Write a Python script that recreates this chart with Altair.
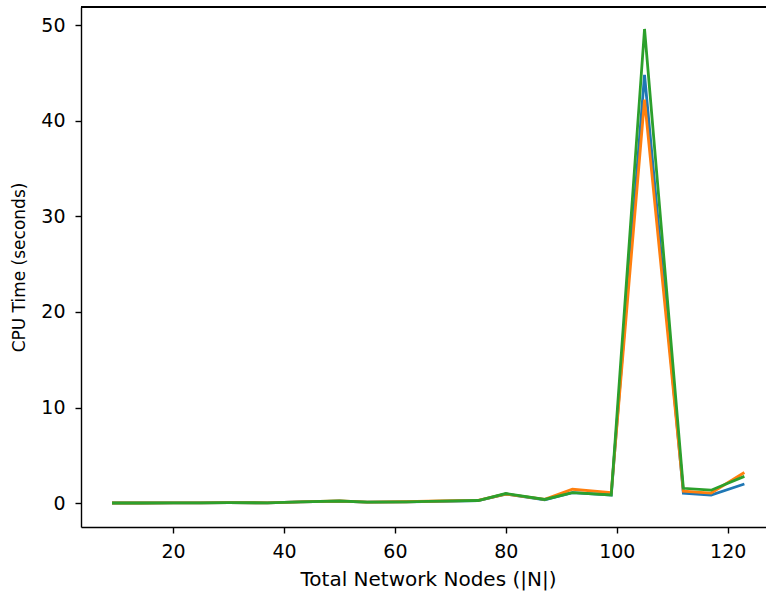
import altair as alt
import pandas as pd

nodes = [9, 14, 20, 25, 30, 37, 43, 50, 55, 62, 68, 75, 80, 87, 92, 99, 105, 112, 117, 123]
series_a = [0.01, 0.01, 0.02, 0.03, 0.04, 0.03, 0.12, 0.20, 0.10, 0.12, 0.18, 0.25, 0.95, 0.35, 1.10, 0.85, 44.8, 1.05, 0.85, 2.00]
series_b = [0.01, 0.01, 0.02, 0.03, 0.05, 0.03, 0.13, 0.22, 0.10, 0.14, 0.22, 0.28, 0.95, 0.40, 1.45, 1.10, 42.2, 1.25, 1.05, 3.20]
series_c = [0.01, 0.01, 0.02, 0.03, 0.05, 0.03, 0.13, 0.22, 0.10, 0.13, 0.20, 0.27, 1.00, 0.38, 1.10, 0.85, 49.6, 1.55, 1.35, 2.80]
names = ["series 1", "series 2", "series 3"]
colors = ["#1f77b4", "#ff7f0e", "#2ca02c"]

rows = []
for name, vals in zip(names, [series_a, series_b, series_c]):
    for n, v in zip(nodes, vals):
        rows.append({"nodes": n, "cpu": v, "series": name})
df = pd.DataFrame(rows)

FONT = "DejaVu Sans"
xs = alt.Scale(domain=[3.4, 126.9], nice=False, zero=False)
ys = alt.Scale(domain=[-2.5, 51.9], nice=False, zero=False)

xaxis = alt.Axis(values=[20, 40, 60, 80, 100, 120], grid=False, tickSize=6, tickWidth=1.4,
                 tickColor="black", domainColor="black", domainWidth=1.4,
                 labelFont=FONT, labelFontSize=19, labelColor="black", labelPadding=9,
                 title="Total Network Nodes (|N|)", titleFont=FONT, titleFontSize=20,
                 titleFontWeight="normal", titleColor="black", titlePadding=8, titleX=347)
yaxis = alt.Axis(values=[0, 10, 20, 30, 40, 50], grid=False, tickSize=6, tickWidth=1.4,
                 tickColor="black", domainColor="black", domainWidth=1.4,
                 labelFont=FONT, labelFontSize=19, labelColor="black", labelPadding=10,
                 title="CPU Time (seconds)", titleFont=FONT, titleFontSize=17,
                 titleFontWeight="normal", titleColor="black", titlePadding=12)

layers = []
for name, col in zip(names, colors):
    layers.append(
        alt.Chart(df).transform_filter(alt.datum.series == name).mark_line(
            color=col, strokeWidth=2.8, clip=True).encode(
            x=alt.X("nodes:Q", scale=xs, axis=xaxis),
            y=alt.Y("cpu:Q", scale=ys, axis=yaxis))
    )

top = alt.Chart(df).mark_rule(color="black", strokeWidth=1.4).encode(
    x=alt.value(0), x2=alt.value(685), y=alt.value(0))
layers.append(top)

chart = alt.layer(*layers).properties(
    width=685, height=520,
    padding={"left": 81, "top": 7, "right": 0, "bottom": 67},
    autosize=alt.AutoSizeParams(type="none"),
    background="white",
).configure_view(stroke=None)

chart.save("out.html", embed_options={"renderer": "svg", "actions": False})
